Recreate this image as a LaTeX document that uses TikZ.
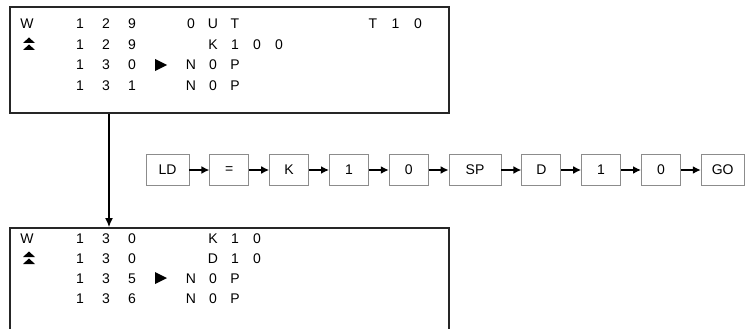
\documentclass[tikz,border=0pt]{standalone}
\usepackage{fontspec}
\setmainfont{Liberation Sans}
\usetikzlibrary{positioning,arrows.meta}

% one row of LCD characters: name, first x, pitch, baseline y, chars
\newcommand{\lcdline}[5]{%
  \foreach \ch [count=\k from 0] in {#5} {\node[lcd] (#1-\k) at ({#2+#3*\k},#4) {\ch};}}

\begin{document}
\begin{tikzpicture}[x=1pt,y=-1pt,
    screen/.style={draw=black!85, line width=1.9pt, inner sep=0pt, anchor=north west},
    lcd/.style={font=\fontsize{14}{16}\selectfont, inner sep=0pt, anchor=base},
    key/.style={draw=black!45, line width=0.8pt, minimum width=39pt, minimum height=31pt,
                inner sep=0pt, font=\fontsize{14}{16}\selectfont},
    feed/.style={-{Latex[length=8pt,width=8pt]}, line width=1.6pt},
    drop/.style={-{Latex[length=9pt,width=8pt]}, line width=1.2pt},
    cursor/.style={fill=black}
]
\clip (0,0) rectangle (749,329);

% screens
\node[screen, minimum width=439pt, minimum height=106pt] (before) at (9,6) {};
\node[screen, minimum width=439pt, minimum height=130pt] (after) at (9,227) {};

% screen before
\lcdline{b1}{27}{0}{29}{W}
\lcdline{b1n}{80}{26}{29}{1,2,9}
\lcdline{b1c}{191}{22}{29}{0,U,T}
\lcdline{b1t}{373}{22.5}{29}{T,1,0}
\lcdline{b2n}{80}{26}{50}{1,2,9}
\lcdline{b2c}{213}{22}{50}{K,1,0,0}
\lcdline{b3n}{80}{26}{70}{1,3,0}
\lcdline{b3c}{191}{22}{70}{N,0,P}
\lcdline{b4n}{80}{26}{90}{1,3,1}
\lcdline{b4c}{191}{22}{90}{N,0,P}
\fill[cursor] (29,37.5) -- (35,43) -- (23,43) -- cycle;
\fill[cursor] (29,44.5) -- (35,50) -- (23,50) -- cycle;
\fill[cursor] (155,59) -- (167,65) -- (155,71) -- cycle;

% screen after
\lcdline{a1}{27}{0}{243}{W}
\lcdline{a1n}{80}{26}{243}{1,3,0}
\lcdline{a1c}{213}{22}{243}{K,1,0}
\lcdline{a2n}{80}{26}{263}{1,3,0}
\lcdline{a2c}{213}{22}{263}{D,1,0}
\lcdline{a3n}{80}{26}{283}{1,3,5}
\lcdline{a3c}{191}{22}{283}{N,0,P}
\lcdline{a4n}{80}{26}{303}{1,3,6}
\lcdline{a4c}{191}{22}{303}{N,0,P}
\fill[cursor] (29,251.5) -- (35,257) -- (23,257) -- cycle;
\fill[cursor] (29,258.5) -- (35,264) -- (23,264) -- cycle;
\fill[cursor] (155,272) -- (167,278) -- (155,284) -- cycle;

\coordinate (col) at (109,0);
\draw[drop] (before.south -| col) -- (after.north -| col);

% key sequence
\node[key, minimum width=43pt] (ld) at (167.5,170) {LD};
\node[key, right=20pt of ld] (eq) {=};
\node[key, right=20pt of eq] (k) {K};
\node[key, right=20pt of k] (one) {1};
\node[key, right=20pt of one] (zero) {0};
\node[key, minimum width=52pt, right=20pt of zero] (sp) {SP};
\node[key, right=20pt of sp] (d) {D};
\node[key, right=20pt of d] (one2) {1};
\node[key, right=20pt of one2] (zero2) {0};
\node[key, minimum width=43pt, right=20pt of zero2] (go) {GO};
\foreach \a/\b in {ld/eq, eq/k, k/one, one/zero, zero/sp, sp/d, d/one2, one2/zero2, zero2/go}
  \draw[feed] (\a) -- (\b);
\end{tikzpicture}
\end{document}
